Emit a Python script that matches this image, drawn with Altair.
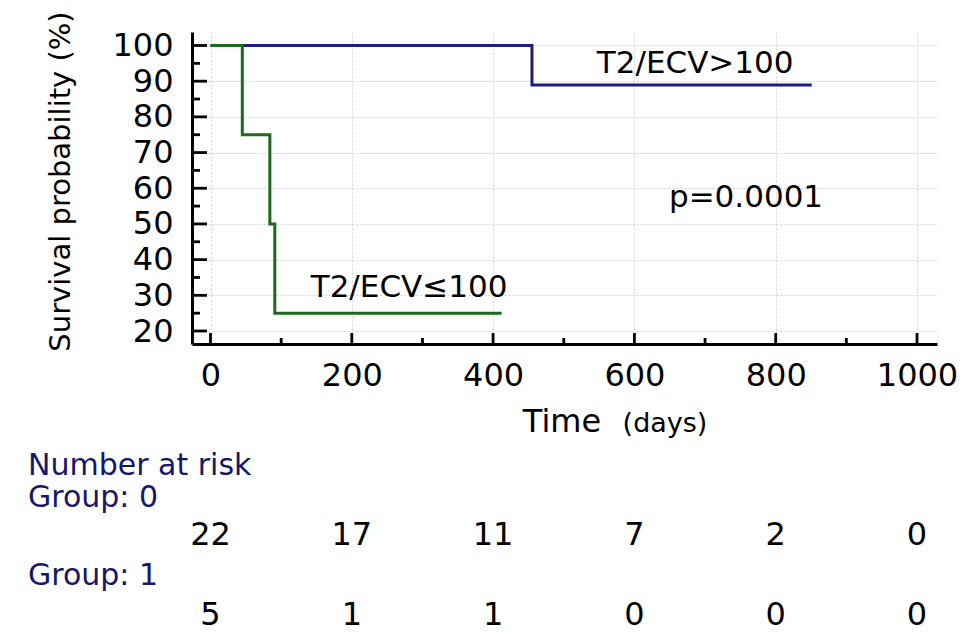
import altair as alt
import pandas as pd

# ---- survival curves (Kaplan-Meier steps) ----
g0_name = "T2/ECV>100"
g0_time = [0, 455, 851]
g0_surv = [100, 88.9, 88.9]

g1_name = "T2/ECV≤100"
g1_time = [0, 45, 84, 91, 412]
g1_surv = [100, 75, 50, 25, 25]

# ---- axes ----
x_ticks = [0, 200, 400, 600, 800, 1000]
x_minor = [100, 300, 500, 700, 900]
y_ticks = [20, 30, 40, 50, 60, 70, 80, 90, 100]
y_minor = [25, 35, 45, 55, 65, 75, 85, 95]

# ---- number at risk ----
risk_times = [0, 200, 400, 600, 800, 1000]
risk_g0 = [22, 17, 11, 7, 2, 0]
risk_g1 = [5, 1, 1, 0, 0, 0]

# ---- annotations ----
ann_text = ["T2/ECV>100", "p=0.0001", "T2/ECV≤100"]
ann_x = [686, 758, 281]
ann_y = [92.3, 54.8, 29.5]

NAVY = "#1c1c85"
GREEN = "#1a6a1a"
FONT = "DejaVu Sans"

curve_df = pd.concat([
    pd.DataFrame({"time": g0_time, "surv": g0_surv, "group": g0_name}),
    pd.DataFrame({"time": g1_time, "surv": g1_surv, "group": g1_name}),
])

xs = alt.Scale(domain=[-26.2, 1028.3], nice=False, zero=False)
ys = alt.Scale(domain=[16.36, 103.78], nice=False, zero=False)

x_axis = alt.Axis(values=x_ticks, format="d", grid=True, gridDash=[2, 2],
                  gridColor="#d2d2d2", gridWidth=1, ticks=False, tickSize=0,
                  domain=True, domainColor="black", domainWidth=3,
                  labelFontSize=32, labelColor="black", labelFont=FONT,
                  labelPadding=41, labelBaseline="alphabetic", labelFlush=False,
                  labelOverlap=False, title=None)
y_axis = alt.Axis(values=y_ticks, format="d", grid=True, gridDash=[2, 2],
                  gridColor="#d2d2d2", gridWidth=1, ticks=False, tickSize=0,
                  domain=True, domainColor="black", domainWidth=3,
                  labelFontSize=32, labelColor="black", labelFont=FONT,
                  labelPadding=19, labelAlign="right", labelBaseline="middle",
                  labelFlush=False, labelOverlap=False,
                  title="Survival probability (%)", titleFont=FONT,
                  titleFontSize=29, titleFontWeight="normal", titleColor="black",
                  titleAngle=270, titleX=-123, titleY=149, titleAlign="center",
                  titleBaseline="alphabetic")


def X(field):
    return alt.X(field, type="quantitative", scale=xs, axis=x_axis)


def Y(field):
    return alt.Y(field, type="quantitative", scale=ys, axis=y_axis)


curves = alt.Chart(curve_df).mark_line(interpolate="step-after", strokeWidth=3).encode(
    x=X("time"),
    y=Y("surv"),
    color=alt.Color("group:N", scale=alt.Scale(domain=[g0_name, g1_name],
                                               range=[NAVY, GREEN]), legend=None),
)

# inward ticks
xt_major = alt.Chart(pd.DataFrame({"t": x_ticks})).mark_rule(color="black", strokeWidth=2.8).encode(
    x=X("t"), y=alt.value(312), y2=alt.value(301))
xt_minor = alt.Chart(pd.DataFrame({"t": x_minor})).mark_rule(color="black", strokeWidth=2.8).encode(
    x=X("t"), y=alt.value(312), y2=alt.value(306))
yt_major = alt.Chart(pd.DataFrame({"v": y_ticks})).mark_rule(color="black", strokeWidth=2.8).encode(
    y=Y("v"), x=alt.value(0), x2=alt.value(15))
yt_minor = alt.Chart(pd.DataFrame({"v": y_minor})).mark_rule(color="black", strokeWidth=2.8).encode(
    y=Y("v"), x=alt.value(0), x2=alt.value(8))

ann = alt.Chart(pd.DataFrame({"label": ann_text, "x": ann_x, "y": ann_y})).mark_text(
    font=FONT, fontSize=31, align="center", baseline="alphabetic", color="black").encode(
    x=X("x"), y=Y("y"), text="label:N")


def fixed_text(s, px, py, size, color="black", align="center"):
    return alt.Chart(pd.DataFrame({"s": [s]})).mark_text(
        font=FONT, fontSize=size, align=align, baseline="alphabetic", color=color).encode(
        x=alt.value(px), y=alt.value(py), text="s:N")


# x axis title
t_time = fixed_text("Time", 370, 400, 32)
t_days = fixed_text("(days)", 473, 400, 27)

# risk table
RISK_COLOR = "#16166a"
rl_title = fixed_text("Number at risk", -164, 443, 30, RISK_COLOR, "left")
rl_g0 = fixed_text("Group: 0", -164, 475, 30, RISK_COLOR, "left")
rl_g1 = fixed_text("Group: 1", -164, 553, 30, RISK_COLOR, "left")

r0 = alt.Chart(pd.DataFrame({"t": risk_times, "n": risk_g0})).mark_text(
    font=FONT, fontSize=32, align="center", baseline="alphabetic", color="black").encode(
    x=X("t"), y=alt.value(513), text="n:Q")
r1 = alt.Chart(pd.DataFrame({"t": risk_times, "n": risk_g1})).mark_text(
    font=FONT, fontSize=32, align="center", baseline="alphabetic", color="black").encode(
    x=X("t"), y=alt.value(593), text="n:Q")

chart = alt.layer(curves, xt_major, xt_minor, yt_major, yt_minor, ann,
                  t_time, t_days, rl_title, rl_g0, rl_g1, r0, r1).properties(
    width=745, height=312,
    autosize=alt.AutoSizeParams(type="none"),
    padding={"left": 184, "top": 24, "right": 28, "bottom": 282},
).configure(font=FONT).configure_view(stroke=None)

chart.save("out.html", embed_options={"renderer": "svg", "actions": False})
